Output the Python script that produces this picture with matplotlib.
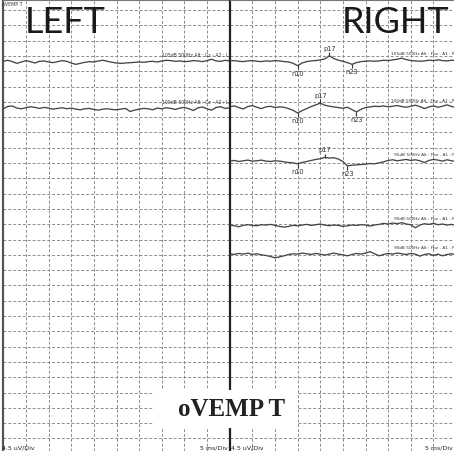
import numpy as np
import matplotlib
matplotlib.use("Agg")
import matplotlib.pyplot as plt
from matplotlib.patches import Rectangle

# time base (ms) and sensitivity
times = np.arange(-5, 46, 1)
uv_per_div = 4.5
ms_per_div = 5

# left side traces (uV)
left_1 = [0.3, 0.6, 0.2, -0.3, 0.1, 0.5, 0.2, -0.2, 0.3, 0.4, 0.1, -0.1, 0.2, 0.5, 0.3, -0.2, -0.6,
          -0.3, 0.0, 0.2, 0.1, 0.4, 0.6, 0.3, 0.0, -0.2, -0.3, -0.2, -0.1, 0.0, 0.1, 0.0, 0.2, 0.3,
          0.1, 0.4, 0.6, 0.5, 0.3, 0.4, 0.2, 0.3, 0.5, 0.4, 0.2, 0.5, 0.9, 0.4, 0.3, 0.6, 0.4]
left_2 = [0.2, 0.9, 1.0, 0.4, 0.2, 0.5, 0.8, 0.6, 0.3, 0.6, 0.4, 0.1, 0.3, 0.5, 0.2, 0.4, 0.1,
          -0.1, 0.2, 0.3, 0.0, -0.2, 0.1, 0.2, 0.0, -0.1, 0.1, 0.3, -0.6, -0.2, 0.1, 0.3, 0.2, -0.1,
          0.4, 0.2, 0.5, 0.3, 0.0, 0.4, 0.6, 0.2, -0.3, 0.5, 0.7, 0.2, -0.2, 0.6, 0.8, 0.3, 0.5]

# right side traces (uV)
right_1 = [0.1, 0.2, 0.0, -0.1, 0.1, 0.2, 0.0, -0.1, 0.1, 0.0, 0.2, 0.1, -0.1, -0.2, -0.6, -1.3,
           -0.5, -0.1, 0.1, 0.2, 0.4, 0.7, 1.6, 0.8, 0.3, 0.0, -0.4, -0.9, -0.4, -0.1, 0.0, 0.1,
           0.0, 0.1, 0.3, 0.2, 0.4, 0.6, 0.9, 0.5, 0.2, 0.1, 0.0, 0.1, 0.3, 0.2, 0.4, 0.2, 0.1, 0.3, 0.2]
right_2 = [0.3, 0.6, 0.1, -0.3, 0.4, 0.7, 0.2, -0.2, 0.3, 0.5, 0.1, 0.3, 0.2, -0.2, -0.7, -1.5,
           -0.8, -0.2, 0.4, 0.9, 1.4, 0.8, 0.5, 0.3, 0.1, -0.1, 0.2, -0.5, -1.2, -0.4, 0.1, 0.3,
           0.5, 0.4, 0.6, 0.3, 0.5, 0.7, 0.4, 0.2, 0.5, 0.8, 0.4, -0.2, 0.3, 0.6, 0.2, 0.5, 0.9, 0.4, 0.2]
right_3 = [0.1, 0.3, 0.0, 0.2, 0.4, 0.1, 0.2, 0.4, 0.1, 0.0, 0.2, 0.1, -0.1, -0.3, -0.4, -0.7,
           -0.3, 0.0, 0.3, 0.6, 0.8, 1.2, 1.0, 1.1, 0.7, 0.0, -1.3, -1.1, -1.0, -0.9, -0.8, -0.6,
           -0.7, -0.4, -0.1, 0.3, 0.5, 0.2, 0.4, 0.6, 0.3, 0.5, 0.2, -0.3, 0.3, 0.6, 0.4, 0.1, 0.5, 0.2, 0.0]
right_4 = [0.2, 0.0, -0.3, 0.1, 0.3, 0.1, 0.0, 0.3, 0.2, 0.4, 0.1, -0.2, -0.4, -0.2, 0.1, 0.0,
           0.2, 0.4, 0.1, 0.3, 0.5, 0.2, 0.0, 0.2, 0.1, -0.2, 0.0, 0.2, 0.1, 0.3, 0.2, -0.1, 0.2,
           0.4, 0.7, 0.5, 0.8, 0.6, 0.9, 0.5, 0.3, -0.6, 0.2, 0.6, 0.4, 0.7, 0.3, 0.5, 0.2, 0.4, 0.1]
right_5 = [0.3, 0.1, 0.4, 0.2, 0.5, 0.1, 0.3, 0.0, -0.2, -0.5, -0.9, -0.6, -0.3, 0.1, 0.3, 0.2,
           0.5, 0.3, 0.1, 0.4, 0.2, -0.1, 0.2, 0.5, 0.2, 0.0, -0.3, 0.1, 0.4, 0.2, 0.5, 0.9, 0.3,
           -0.3, 0.1, 0.4, 0.2, 0.5, 0.3, 0.1, 0.4, 0.2, -0.4, 0.1, 0.3, -0.2, 0.2, -0.3, 0.1, 0.3, 0.0]

left_labels = ["105dB 500Hz Alt : Cz - A2 : L", "100dB 500Hz Alt : Cz - A2 : L"]
right_labels = ["105dB 500Hz Alt : Fpz - A1 : R", "100dB 500Hz Alt : Fpz - A1 : R",
                "95dB 500Hz Alt : Fpz - A1 : R", "90dB 500Hz Alt : Fpz - A1 : R",
                "90dB 500Hz Alt : Fpz - A1 : R"]

# peak marks on the right traces: (name, latency ms)
right_peaks = [
    [("n10", 10), ("p17", 17), ("n23", 22)],
    [("n10", 10), ("p17", 15), ("n23", 23)],
    [("n10", 10), ("p17", 16), ("n23", 21)],
    [],
    [],
]

# baseline of each trace, in divisions below the top grid line
left_rows = [3.42, 6.5]
right_rows = [3.35, 6.4, 9.9, 14.1, 16.0]

W, H = 454, 451
row_px = 15.3
top_px = 10.0
fig = plt.figure(figsize=(W / 100, H / 100), dpi=100)
fig.patch.set_facecolor("white")

y_top = top_px / row_px * uv_per_div
y_bot = y_top - H / row_px * uv_per_div
grid_col = "#8c8c8c"
trace_col = "#454545"


def make_panel(x0_px):
    ax = fig.add_axes([x0_px / W, 0, 226.4 / W, 1])
    ax.set_xlim(times[0], times[-1])
    ax.set_ylim(y_bot, y_top)
    ax.set_xticks(np.arange(times[0], times[-1] + 1, ms_per_div))
    ax.set_yticks(-np.arange(0, 29) * uv_per_div)
    ax.grid(True, color=grid_col, linestyle=(0, (3, 2)), linewidth=0.7)
    ax.tick_params(length=0, labelbottom=False, labelleft=False)
    for s in ["right", "bottom"]:
        ax.spines[s].set_visible(False)
    ax.spines["top"].set_color("#777777")
    ax.spines["top"].set_linewidth(0.8)
    return ax


axL = make_panel(3.3)
axR = make_panel(229.7)
axL.spines["left"].set_color("#555555")
axL.spines["left"].set_linewidth(1.6)
axR.spines["left"].set_color("#222222")
axR.spines["left"].set_linewidth(1.6)

for vals, row, lab in zip([left_1, left_2], left_rows, left_labels):
    off = -row * uv_per_div
    axL.plot(times, np.array(vals) + off, color=trace_col, lw=0.95, zorder=3)
    axL.text(times[-1] - 0.3, off + 1.4, lab, fontsize=3.3, ha="right", va="bottom", color="#333333")

for vals, row, lab, peaks in zip([right_1, right_2, right_3, right_4, right_5],
                                 right_rows, right_labels, right_peaks):
    off = -row * uv_per_div
    y = np.array(vals) + off
    axR.plot(times, y, color=trace_col, lw=0.95, zorder=3)
    axR.text(times[-1] - 0.2, off + 1.4, lab, fontsize=3.1, ha="right", va="bottom", color="#333333")
    for name, lat in peaks:
        yp = np.interp(lat, times, y)
        if name.startswith("n"):
            axR.plot(lat, yp - 0.5, marker="|", ms=3, color="#333333", mew=0.8, zorder=4)
            axR.text(lat, yp - 1.5, name, fontsize=4.8, ha="center", va="top", color="#333333")
        else:
            axR.plot(lat, yp + 0.5, marker="|", ms=3, color="#333333", mew=0.8, zorder=4)
            axR.text(lat, yp + 1.2, name, fontsize=4.8, ha="center", va="bottom", color="#333333")

# headings
fig.text(25 / W, 1 - 33 / H, "LEFT", fontsize=26, family="Lato", color="#1a1a1a", va="baseline")
fig.text(449 / W, 1 - 33 / H, "RIGHT", fontsize=26, family="Lato", color="#1a1a1a",
         va="baseline", ha="right")
fig.text(2.5 / W, 1 - 5 / H, "oVEMP T", fontsize=3.4, color="#333333", va="center")

# title box
fig.patches.append(Rectangle((153 / W, 1 - 428 / H), 145 / W, 38 / H, transform=fig.transFigure,
                             facecolor="white", edgecolor="none", zorder=5))
fig.text(232 / W, 1 - 409 / H, "oVEMP T", fontsize=18, family="Liberation Serif",
         weight="bold", color="#222222", ha="center", va="center", zorder=6)

# scale notes
for x, t, ha in [(2, "4.5 uV/Div", "left"), (228, "5 ms/Div", "right"),
                 (231, "4.5 uV/Div", "left"), (453, "5 ms/Div", "right")]:
    fig.text(x / W, 1 - 447.5 / H, t, fontsize=4.5, ha=ha, va="center", color="#222222")

fig.savefig("out.png", dpi=100)
